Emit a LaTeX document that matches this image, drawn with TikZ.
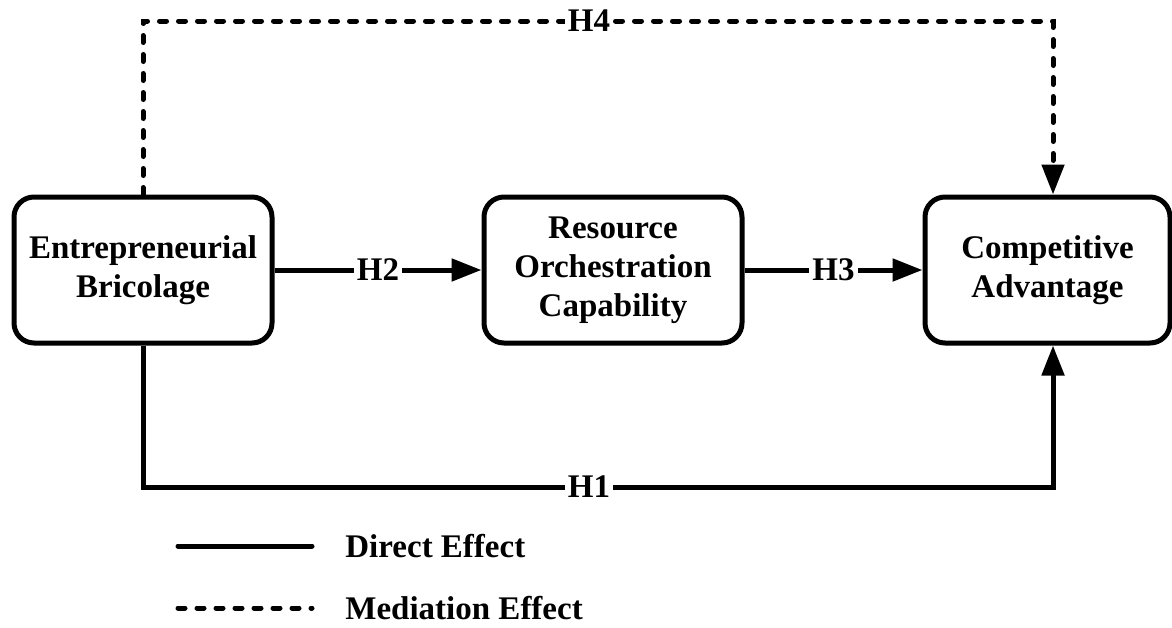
\documentclass[tikz,border=0pt]{standalone}
\usepackage{fontspec}
\setmainfont{Liberation Serif}
\usetikzlibrary{arrows.meta,shadows}

\begin{document}
\begin{tikzpicture}[x=0.5pt,y=-0.5pt,
	construct/.style={draw, line width=2.5pt, rounded corners=10pt, fill=white,
		minimum height=73pt, align=center, font=\fontsize{16.5}{19.5}\selectfont\bfseries,
		drop shadow={shadow xshift=0.6pt, shadow yshift=-1.2pt, fill=cyan!25!blue!15, opacity=.5}},
	direct/.style={line width=2.5pt},
	mediation/.style={line width=2.5pt, line cap=round, dash pattern=on 3.5pt off 6pt},
	tip/.style={-{Triangle[length=15pt,width=11pt]}},
	hyp/.style={fill=white, inner sep=1.5pt, font=\fontsize{16.5}{19.5}\selectfont\bfseries},
	legendtext/.style={anchor=west, inner sep=0pt, font=\fontsize{16.5}{19.5}\selectfont\bfseries}]
\useasboundingbox (0,0) rectangle (1172,627);

% constructs
\node[construct, minimum width=129pt] (bricolage) at (143,270) {Entrepreneurial\\Bricolage};
\node[construct, minimum width=129pt] (orchestration) at (613,270) {Resource\\Orchestration\\Capability};
\node[construct, minimum width=122.5pt] (advantage) at (1047.5,270) {Competitive\\Advantage};

% corner points of the long paths
\coordinate (h4left) at (143,21);
\coordinate (h4right) at (1053,21);
\coordinate (h1left) at (143,487);
\coordinate (h1right) at (1053,487);

% hypotheses
\draw[direct, tip] (bricolage) -- node[hyp]{H2} (orchestration);
\draw[direct, tip] (orchestration) -- node[hyp]{H3} (advantage);
\draw[direct, tip] (bricolage) -- (h1left) -- node[hyp, pos=0.49]{H1} (h1right) -- (h1right |- advantage.south);
\draw[mediation, tip] (bricolage) -- (h4left) -- node[hyp, pos=0.49]{H4} (h4right) -- (h4right |- advantage.north);

% legend
\coordinate (directstart) at (178,546);
\coordinate (directend) at (312,546);
\coordinate (mediationstart) at (178,608);
\coordinate (mediationend) at (312,608);
\draw[direct, line cap=round] (directstart) -- (directend);
\draw[mediation] (mediationstart) -- (mediationend);
\node[legendtext] (directlabel) at (345,546) {Direct Effect};
\node[legendtext] (mediationlabel) at (345,608) {Mediation Effect};
\end{tikzpicture}
\end{document}
